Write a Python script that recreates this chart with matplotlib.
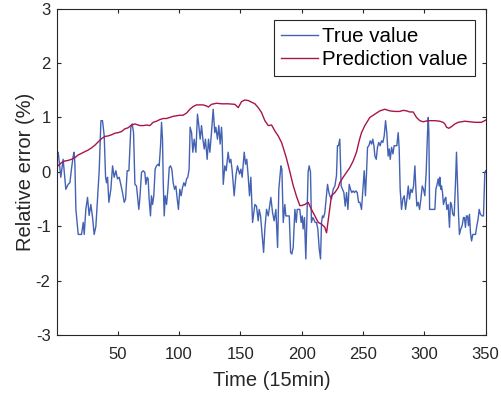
import matplotlib
matplotlib.use('Agg')
import matplotlib.pyplot as plt

plt.rcParams['font.family'] = ['Liberation Sans', 'DejaVu Sans']
plt.rcParams['axes.unicode_minus'] = False

# true value (breakpoints of the noisy line)
true_x = [1, 1.6, 3.7, 5.6, 7.8, 9.7, 11.1, 12.4, 13.8, 14.6, 15.2, 16.0, 17.9, 20.6, 22.0, 22.8,
          24.1, 25.5, 26.8, 28.2, 29.6, 30.9, 32.3, 33.6, 35.0, 36.4, 37.7, 39.1, 40.2, 41.0,
          41.8, 42.9, 44.5, 45.9, 47.2, 48.6, 49.9, 51.3, 52.6, 54.0, 55.4, 56.5, 57.8, 59.2,
          60.8, 61.9, 63.0, 64.1, 65.4, 67.3, 68.1, 69.5, 70.9, 72.2, 73.0, 74.1, 74.9, 75.7,
          76.8, 77.6, 78.5, 79.5, 80.6, 81.7, 83.1, 83.9, 85.0, 85.8, 86.6, 87.2, 88.0, 88.8,
          89.9, 91.0, 92.1, 93.1, 94.2, 95.3, 96.4, 97.5, 98.6, 99.6, 100.7, 101.8, 102.9,
          104.0, 105.1, 106.2, 107.2, 108.3, 109.1, 110.3, 111.3, 112.4, 113.8, 115.1, 116.2,
          117.3, 118.4, 119.5, 120.6, 121.6, 123.0, 124.1, 125.2, 126.5, 127.9, 129.2, 130.1,
          131.4, 132.5, 133.6, 134.7, 135.2, 136.1, 137.4, 138.5, 140.1, 141.2, 142.3, 143.4,
          145.0, 146.4, 147.7, 149.4, 150.5, 151.5, 153.2, 154.3, 155.3, 156.4, 157.5, 158.6,
          160.0, 161.9, 163.2, 164.6, 165.4, 166.5, 167.9, 169.0, 170.0, 171.4, 172.8, 174.9,
          176.3, 177.6, 179.0, 180.4, 181.4, 183.1, 183.9, 185.0, 186.3, 187.1, 188.2, 189.9,
          191.0, 192.0, 193.1, 194.5, 195.6, 196.4, 198.5, 199.6, 200.5, 201.2, 202.3, 203.4,
          204.2, 205.3, 206.1, 207.2, 208.0, 209.1, 209.9, 211.0, 212.1, 213.2, 214.3, 215.4,
          216.2, 217.0, 217.8, 218.9, 220.0, 221.1, 222.2, 223.0, 224.3, 225.7, 227.1, 228.4,
          229.2, 230.0, 231.1, 232.2, 233.3, 234.4, 235.5, 236.6, 237.7, 238.8, 239.8, 240.9,
          242.0, 243.1, 244.2, 245.3, 246.4, 247.5, 248.8, 249.9, 251.0, 252.0, 252.9, 253.7,
          254.8, 255.9, 257.0, 258.0, 258.9, 259.7, 260.8, 261.8, 262.9, 264.0, 265.1, 266.2,
          267.3, 268.4, 269.4, 270.5, 271.4, 272.2, 273.3, 274.4, 275.4, 276.5, 277.6, 278.7,
          279.5, 280.3, 281.4, 282.5, 283.6, 284.7, 285.8, 286.9, 287.9, 289.0, 290.1, 291.2,
          292.3, 293.1, 293.9, 295.0, 296.1, 297.2, 298.3, 299.3, 300.4, 301.5, 302.6, 303.2,
          303.7, 304.3, 305.4, 307.3, 308.6, 309.4, 310.4, 311.3, 312.1, 312.6, 313.4, 314.0,
          314.8, 315.6, 316.7, 317.5, 318.3, 319.4, 320.5, 321.3, 322.1, 323.2, 324.3, 325.4,
          326.2, 327.0, 327.8, 328.6, 329.7, 330.8, 331.9, 332.7, 333.5, 334.3, 335.2, 336.0,
          336.8, 337.6, 338.5, 339.5, 340.6, 341.7, 342.8, 343.8, 344.7, 345.7, 347.1, 348.2,
          349.3, 350.0]
true_y = [0.3, 0.36, -0.10, 0.23, -0.32, -0.23, -0.2, 0.05, 0.29, 0.36, 0.14, -0.69, -1.15, -1.15,
          -0.93, -1.15, -0.69, -0.47, -0.80, -0.6, -0.84, -1.15, -1.0, -0.5, 0.02, 0.94, 0.94,
          0.66, -0.1, -0.2, -0.1, -0.56, -0.32, 0.11, -0.1, 0.02, -0.13, -0.1, -0.23, -0.38,
          -0.56, -0.5, 0.02, 0.02, 0.82, 0.88, 0.72, -0.23, -0.26, -0.69, -0.5, -0.01, 0.02,
          -0.01, -0.23, -0.1, -0.13, -0.5, -0.81, -0.44, -0.6, -0.44, 0.05, 0.11, 0.14, 0.11,
          0.48, 0.91, 0.6, -0.2, -0.81, -0.44, -0.6, -0.32, 0.08, 0.11, 0.05, -0.2, -0.32,
          -0.26, -0.5, -0.69, -0.32, -0.44, -0.29, -0.2, -0.26, -0.13, -0.1, 0.05, 0.82, 0.72,
          0.36, 0.6, 0.36, 1.06, 0.85, 0.6, 0.85, 0.6, 0.42, 0.6, 0.23, 0.6, 0.36, 0.72, 1.15,
          0.72, 0.82, 0.6, 0.85, 0.51, 0.82, 0.6, -0.23, 0.11, 0.02, 0.36, 0.17, 0.23, 0.02,
          -0.44, -0.07, 0.11, -0.04, 0.05, -0.1, 0.36, 0.14, 0.23, -0.07, -0.44, -0.1, -0.93,
          -0.6, -0.63, -0.9, -0.69, -0.81, -1.18, -1.48, -1.05, -0.69, -0.81, -0.47, -0.75,
          -0.9, -0.69, -1.39, -0.32, 0.11, 0.05, -0.93, -0.6, -0.81, -0.81, -0.81, -1.48, -1.51,
          -1.39, -0.69, -0.93, -0.69, -0.69, -0.93, -0.81, -1.05, -0.84, -1.6, -0.93, 0.0, 0.11,
          0.0, -0.93, -0.84, -0.87, -0.93, -0.93, -1.05, -1.41, -1.6, -0.93, -0.81, -0.84,
          -0.75, -0.5, -0.23, -0.38, -0.44, -0.5, -0.32, -0.26, -0.07, 0.48, 0.48, 0.6, -0.26,
          -0.32, -0.38, -0.63, -0.38, -0.69, -0.23, -0.32, -0.38, -0.35, -0.38, -0.35, -0.38,
          -0.56, -0.56, -0.69, -0.32, 0.02, -0.44, -0.01, 0.45, 0.48, 0.57, 0.51, 0.6, 0.48,
          0.29, 0.23, 0.45, 0.54, 0.48, 0.57, 0.54, 0.66, 0.94, 0.72, 0.29, 0.42, 0.23, 0.45,
          0.33, 0.48, 0.48, 0.48, 0.72, 0.42, -0.32, -0.69, -0.5, -0.44, -0.69, -0.5, -0.26,
          -0.5, -0.32, -0.38, -0.26, 0.11, -0.32, -0.63, -0.56, -0.69, -0.5, -0.26, -0.32,
          -0.44, -0.01, 0.72, 1.0, 0.72, -0.69, -0.69, -0.69, -0.69, -0.32, -0.23, -0.13, -0.26,
          -0.1, -0.32, -0.26, -0.38, -0.6, -0.5, -0.47, -0.69, -0.6, -1.02, -0.56, -0.6, -0.78,
          -0.81, -0.2, 0.36, -0.2, -0.75, -1.15, -1.05, -0.99, -0.84, -0.84, -1.02, -0.81, -0.81,
          -0.99, -0.78, -1.12, -1.27, -1.15, -1.15, -1.15, -0.99, -0.87, -0.69, -0.78, -0.81,
          -0.81, -0.01, 0.02]

# prediction value (smooth line)
pred_x = [1, 4.3, 7.0, 9.7, 12.4, 15.2, 17.9, 20.6, 23.3, 26.0, 28.7, 31.5, 34.2, 36.9, 39.6,
          42.3, 45.0, 47.8, 50.5, 53.2, 55.9, 58.6, 61.3, 64.1, 68.1, 70.9, 73.6, 76.3, 79.0,
          81.7, 84.4, 87.2, 89.9, 92.6, 95.3, 98.0, 100.7, 103.4, 106.2, 108.9, 111.6, 114.3,
          117.0, 119.7, 122.5, 124.0, 126.5, 130.6, 134.7, 140.1, 145.6, 148.3, 151.0, 153.7,
          156.5, 159.2, 161.9, 164.6, 167.3, 170.0, 172.8, 175.5, 178.2, 180.9, 183.6, 184.9,
          187.6, 190.4, 193.1, 195.8, 198.5, 199.9, 202.6, 205.3, 208.0, 210.8, 213.5, 216.2,
          218.9, 220.3, 221.6, 224.3, 227.1, 229.8, 231.1, 233.8, 236.6, 239.3, 242.0, 244.7,
          247.0, 248.8, 251.5, 255.6, 259.7, 263.7, 267.8, 271.9, 276.0, 280.0, 282.8, 285.5,
          288.2, 290.9, 293.6, 296.3, 299.0, 303.1, 308.6, 312.6, 315.3, 316.7, 318.1, 320.0,
          322.1, 324.9, 327.6, 333.0, 341.2, 346.6, 350.0]
pred_y = [0.1, 0.17, 0.20, 0.21, 0.23, 0.26, 0.31, 0.34, 0.37, 0.40, 0.44, 0.49, 0.55, 0.61, 0.65,
          0.66, 0.68, 0.71, 0.72, 0.74, 0.79, 0.81, 0.86, 0.88, 0.85, 0.85, 0.86, 0.85, 0.91,
          0.93, 0.96, 0.98, 0.98, 1.00, 1.02, 1.03, 1.04, 1.04, 1.08, 1.15, 1.20, 1.23, 1.23,
          1.23, 1.21, 1.19, 1.24, 1.26, 1.25, 1.25, 1.24, 1.18, 1.29, 1.32, 1.31, 1.28, 1.25,
          1.18, 1.09, 0.94, 0.85, 0.86, 0.75, 0.66, 0.54, 0.45, 0.25, 0.0, -0.25, -0.45, -0.62,
          -0.62, -0.6, -0.56, -0.69, -0.81, -0.93, -0.96, -1.02, -1.12, -0.9, -0.44, -0.38,
          -0.29, -0.2, -0.1, -0.01, 0.08, 0.2, 0.36, 0.58, 0.72, 0.85, 1.0, 1.06, 1.12, 1.15,
          1.12, 1.11, 1.11, 1.13, 1.12, 1.1, 1.1, 1.0, 0.94, 0.92, 0.94, 0.94, 0.93, 0.91, 0.88,
          0.82, 0.8, 0.83, 0.88, 0.91, 0.93, 0.91, 0.91, 0.95]

x_ticks = [50, 100, 150, 200, 250, 300, 350]
y_ticks = [-3, -2, -1, 0, 1, 2, 3]

axis_col = '#262626'

fig = plt.figure(figsize=(5.02, 3.98), dpi=100)
ax = fig.add_axes([0.1145, 0.158, 0.853, 0.8205])

ax.plot(true_x, true_y, color='#4362b3', lw=1.0, label='True value')
ax.plot(pred_x, pred_y, color='#a8154d', lw=1.0, label='Prediction value')

ax.set_xlim(1, 350)
ax.set_ylim(-3, 3)
ax.set_xticks(x_ticks)
ax.set_yticks(y_ticks)
ax.tick_params(direction='in', top=True, right=True, length=3, width=0.8,
               labelsize=12, colors=axis_col)
ax.tick_params(axis='x', pad=8.5)
ax.tick_params(axis='y', pad=5)
for s in ax.spines.values():
    s.set_color(axis_col)
    s.set_linewidth(0.8)

ax.set_xlabel('Time (15min)', fontsize=14.5, color=axis_col, labelpad=6.5)
ax.set_ylabel('Relative error (%)', fontsize=14.5, color=axis_col, labelpad=0.5)

leg = ax.legend(loc='upper right', bbox_to_anchor=(0.9757, 0.9657), borderaxespad=0,
                fontsize=14.8, fancybox=False, framealpha=1, edgecolor=axis_col,
                handlelength=1.8, handletextpad=0.2, borderpad=0.35, labelspacing=0.2)
leg.get_frame().set_linewidth(0.8)

fig.savefig('out.png', dpi=100)
